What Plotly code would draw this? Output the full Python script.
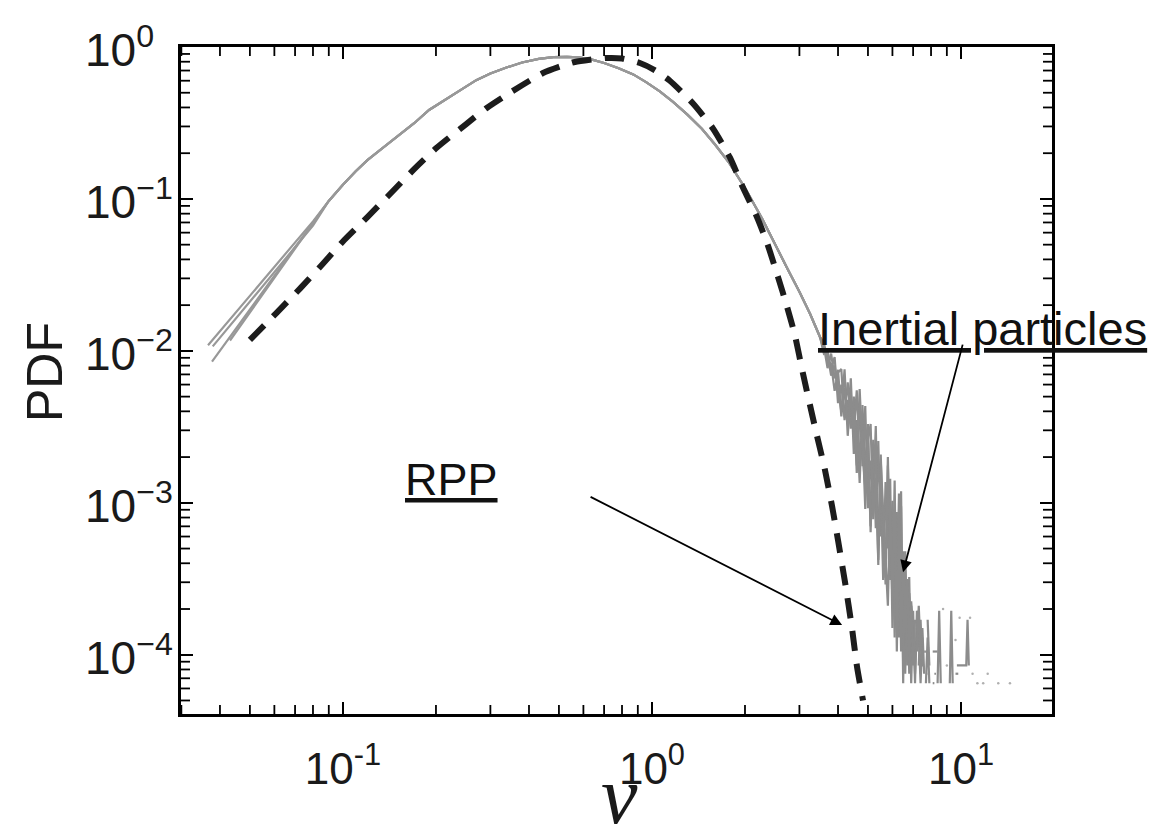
import math
import plotly.graph_objects as go

# ---------------- data ----------------
# Low-velocity ends of the four inertial-particle PDFs (they fan out here)
nu_left_a = [0.0366, 0.05, 0.065, 0.08]
pdf_left_a = [0.0109, 0.0230, 0.0433, 0.0712]
nu_left_b = [0.0379, 0.05, 0.065, 0.08]
pdf_left_b = [0.0107, 0.0211, 0.0401, 0.0668]
nu_left_c = [0.0377, 0.05, 0.065, 0.08]
pdf_left_c = [0.0085, 0.0187, 0.0390, 0.0697]
nu_left_d = [0.0431, 0.05, 0.065, 0.08]
pdf_left_d = [0.0117, 0.0179, 0.0380, 0.0690]

# Common body of the inertial-particle PDFs
nu_body = [0.09, 0.10, 0.11, 0.12, 0.135, 0.15, 0.17, 0.19, 0.21, 0.24, 0.27,
           0.30, 0.34, 0.38, 0.43, 0.48, 0.53, 0.58, 0.64, 0.70, 0.78, 0.87,
           0.96, 1.06, 1.17, 1.30, 1.45, 1.60, 1.78, 2.00, 2.25, 2.50, 2.75,
           3.00, 3.25, 3.50]
pdf_body = [0.097, 0.124, 0.152, 0.180, 0.218, 0.258, 0.315, 0.385, 0.44, 0.52,
            0.605, 0.67, 0.735, 0.79, 0.835, 0.857, 0.862, 0.855, 0.825, 0.785,
            0.725, 0.66, 0.585, 0.51, 0.435, 0.36, 0.29, 0.228, 0.172, 0.118,
            0.077, 0.050, 0.0345, 0.0245, 0.0175, 0.0123]

# Noisy high-velocity tails (None = empty bin)
nu_tail_a = [3.6, 3.7, 3.8, 3.9, 4.0, 4.1, 4.2, 4.3, 4.4, 4.5, 4.6, 4.7, 4.8,
             4.9, 5.0, 5.1, 5.2, 5.3, 5.4, 5.5, 5.6, 5.7, 5.8, 5.9, 6.0, 6.1,
             6.2, 6.3, 6.4, 6.5, 6.6, 6.7, 6.8, 6.9, 7.0, 7.1, 7.2, 7.3, 7.4,
             7.5, 7.6, 7.7, 7.8, 7.9, 8.0, 8.1, 8.2, 8.3, 8.4, 8.5, 8.6, 8.7,
             9.2, 9.3, 9.4]
pdf_tail_a = [0.0107, 0.0077, 0.0096, 0.0066, 0.0075, 0.0037, 0.0057, 0.0033,
              0.0066, 0.0021, 0.0035, 0.00135, 0.0044, 0.00167, 0.0028,
              0.00064, 0.0026, 0.00068, 0.00255, 0.0006, 0.00088, 0.00029,
              0.0020, 0.00031, 0.00103, 0.00013, 0.0006, 0.00013, 0.00095,
              6.5e-5, 0.00048, 0.00013, 0.000325, 6.5e-5, 0.000195, 6.5e-5,
              0.000195, 0.00013, 6.5e-5, 0.00013, None, 6.5e-5, 0.00013, 6.5e-5,
              None, 6.5e-5, 6.5e-5, None, 6.5e-5, 0.000195, 6.5e-5, None,
              6.5e-5, 0.000195, 6.5e-5]

nu_tail_b = [3.6, 3.7, 3.8, 3.9, 4.0, 4.1, 4.2, 4.3, 4.4, 4.5, 4.6, 4.7, 4.8,
             4.9, 5.0, 5.1, 5.2, 5.3, 5.4, 5.5, 5.6, 5.7, 5.8, 5.9, 6.0, 6.1,
             6.2, 6.3, 6.4, 6.5, 6.6, 6.7, 6.8, 6.9, 7.0, 7.1, 7.2, 7.3, 7.4,
             7.5, 7.6, 7.7, 7.8, 7.9, 8.0, 8.1, 8.2, 8.3, 8.4, 9.6, 9.7, 9.8]
pdf_tail_b = [0.0096, 0.0100, 0.0076, 0.0091, 0.00453, 0.0060, 0.00365, 0.0062,
              0.00365, 0.00467, 0.00157, 0.0045, 0.00174, 0.00433, 0.00092,
              0.0019, 0.00104, 0.0032, 0.00052, 0.00138, 0.00031, 0.00137,
              0.0005, 0.00144, 0.00015, 0.00085, 0.000225, 0.00115, 0.00015,
              0.00041, 7.5e-5, 0.0003, 7.5e-5, 0.000225, 0.00015, 7.5e-5,
              0.00015, None, 7.5e-5, 0.00015, 7.5e-5, None, 7.5e-5, 7.5e-5,
              None, None, 7.5e-5, 7.5e-5, None, 7.5e-5, 7.5e-5, 7.5e-5]

nu_tail_c = [3.6, 3.7, 3.8, 3.9, 4.0, 4.1, 4.2, 4.3, 4.4, 4.5, 4.6, 4.7, 4.8,
             4.9, 5.0, 5.1, 5.2, 5.3, 5.4, 5.5, 5.6, 5.7, 5.8, 5.9, 6.0, 6.1,
             6.2, 6.3, 6.4, 6.5, 6.6, 6.7, 6.8, 6.9, 7.0, 7.1, 7.2, 7.3, 7.4,
             7.5, 7.6, 7.7, 7.8, 7.9, 8.0, 9.7, 9.8, 9.9, 10.0, 10.1, 10.2,
             10.3, 10.4, 10.5, 10.6]
pdf_tail_c = [0.0114, 0.00845, 0.0082, 0.00546, 0.0072, 0.0076, 0.0035, 0.00476,
              0.00308, 0.0050, 0.00176, 0.0056, 0.00218, 0.00127, 0.0033,
              0.0007, 0.0018, 0.00195, 0.00039, 0.00208, 0.00058, 0.00032,
              0.00176, 0.00044, 0.00081, 0.00017, 0.00087, 0.00017, 0.00119,
              8.5e-5, 0.00036, 8.5e-5, 0.000255, 0.00017, 8.5e-5, 0.00017,
              None, 8.5e-5, 0.00017, 8.5e-5, 8.5e-5, None, 0.00017, 8.5e-5,
              None, 8.5e-5, 8.5e-5, 8.5e-5, 8.5e-5, 8.5e-5, 8.5e-5, 8.5e-5,
              8.5e-5, 0.00017, 8.5e-5]

nu_tail_d = [3.6, 3.7, 3.8, 3.9, 4.0, 4.1, 4.2, 4.3, 4.4, 4.5, 4.6, 4.7, 4.8,
             4.9, 5.0, 5.1, 5.2, 5.3, 5.4, 5.5, 5.6, 5.7, 5.8, 5.9, 6.0, 6.1,
             6.2, 6.3, 6.4, 6.5, 6.6, 6.7, 6.8, 6.9, 7.0, 7.1, 7.2, 7.3, 7.4,
             7.5, 7.6, 7.7, 7.8, 8.1, 8.2, 8.3, 8.4]
pdf_tail_d = [0.0100, 0.0095, 0.00688, 0.0080, 0.0055, 0.00397, 0.00757,
              0.00276, 0.00523, 0.00296, 0.0055, 0.00185, 0.0030, 0.00091,
              0.0026, 0.0033, 0.00078, 0.00146, 0.00042, 0.00189, 0.00088,
              0.00046, 0.00021, 0.00101, 0.00021, 0.0014, 0.000105, 0.0008,
              0.000105, 0.00048, 0.00021, 0.000315, 0.000105, 0.00021,
              0.000105, None, 0.000105, 0.00021, 0.000105, None, 0.000105,
              0.000105, None, 0.000105, 0.000105, 0.000105, 0.000105]

# Isolated occupied bins far in the tail
nu_dots = [8.75, 9.0, 9.9, 10.7, 9.6, 10.9, 11.3, 11.8, 12.2, 13.2, 14.4]
pdf_dots = [0.0002, 8.5e-5, 0.000175, 0.000175, 0.000125, 7.5e-5, 6.5e-5,
            6.5e-5, 7.5e-5, 6.5e-5, 6.5e-5]

# RPP (random-phase) prediction, dashed
nu_rpp = [0.05, 0.061, 0.073, 0.086, 0.101, 0.12, 0.139, 0.17, 0.201, 0.25,
          0.292, 0.35, 0.444, 0.50, 0.563, 0.63, 0.715, 0.80, 0.914, 1.02,
          1.14, 1.358, 1.575, 1.787, 1.97, 2.19, 2.36, 2.56, 2.74, 2.90, 3.08,
          3.37, 3.63, 3.83, 4.00, 4.22, 4.44, 4.61, 4.82]
pdf_rpp = [0.0118, 0.0178, 0.026, 0.0373, 0.0537, 0.076, 0.103, 0.157, 0.217,
           0.31, 0.397, 0.505, 0.674, 0.74, 0.797, 0.825, 0.847, 0.84, 0.785,
           0.705, 0.602, 0.425, 0.291, 0.1875, 0.119, 0.0755, 0.051, 0.0305,
           0.0193, 0.0127, 0.0071, 0.00314, 0.00164, 0.00094, 0.000566,
           0.000295, 0.000149, 8.3e-5, 5.0e-5]

x_ticks = [0.1, 1, 10]
x_ticktext = ["10<sup>-1</sup>", "10<sup>0</sup>", "10<sup>1</sup>"]
y_exponents = [-4, -3, -2, -1, 0]
y_ticktext = ["10<sup>\u22124</sup>", "10<sup>\u22123</sup>", "10<sup>\u22122</sup>",
              "10<sup>\u22121</sup>", "10<sup>0</sup>"]

X_RANGE = [-1.524, 1.2945]
Y_RANGE = [-4.39, 0]

# ---------------- figure ----------------
W, H = 1161, 831
MARGIN = dict(l=181, r=109, t=47, b=117)
PLOT_W = W - MARGIN["l"] - MARGIN["r"]
PLOT_H = H - MARGIN["t"] - MARGIN["b"]

GRAY = "#989898"
GRAY_TAIL = "#8c8c8c"
SANS = "Liberation Sans"

fig = go.Figure()

gray_series = [
    (nu_left_a, pdf_left_a, nu_tail_a, pdf_tail_a),
    (nu_left_b, pdf_left_b, nu_tail_b, pdf_tail_b),
    (nu_left_c, pdf_left_c, nu_tail_c, pdf_tail_c),
    (nu_left_d, pdf_left_d, nu_tail_d, pdf_tail_d),
]
for nl, pl, nt, pt in gray_series:
    fig.add_trace(go.Scatter(
        x=nl + nu_body, y=pl + pdf_body, mode="lines",
        line=dict(color=GRAY, width=2.2), hoverinfo="skip", showlegend=False))
    fig.add_trace(go.Scatter(
        x=nu_body[-1:] + nt, y=pdf_body[-1:] + pt, mode="lines",
        line=dict(color=GRAY_TAIL, width=2.2), hoverinfo="skip",
        showlegend=False))

fig.add_trace(go.Scatter(
    x=nu_dots, y=pdf_dots, mode="markers",
    marker=dict(color="#b0b0b0", size=2.5), hoverinfo="skip", showlegend=False))

fig.add_trace(go.Scatter(
    x=nu_rpp, y=pdf_rpp, mode="lines", line_shape="spline",
    line=dict(color="#1c1c1c", width=6, dash="20px,13px", smoothing=0.6),
    hoverinfo="skip", showlegend=False))

# minor log ticks (2..9 in each decade), inside on all four sides,
# drawn as one broken line trace
MINOR_LEN = 9
kx = 10 ** (MINOR_LEN / PLOT_W * (X_RANGE[1] - X_RANGE[0]))
ky = 10 ** (MINOR_LEN / PLOT_H * (Y_RANGE[1] - Y_RANGE[0]))
x_lo, x_hi = 10 ** X_RANGE[0], 10 ** X_RANGE[1]
y_lo, y_hi = 10 ** Y_RANGE[0], 10 ** Y_RANGE[1]
mt_x, mt_y = [], []
for e in range(-2, 2):
    for d in range(2, 10):
        v = d * 10.0 ** e
        if X_RANGE[0] < math.log10(v) < X_RANGE[1]:
            mt_x += [v, v, None, v, v, None]
            mt_y += [y_lo, y_lo * ky, None, y_hi, y_hi / ky, None]
for e in range(-5, 0):
    for d in range(2, 10):
        v = d * 10.0 ** e
        if Y_RANGE[0] < math.log10(v) < Y_RANGE[1]:
            mt_x += [x_lo, x_lo * kx, None, x_hi, x_hi / kx, None]
            mt_y += [v, v, None, v, v, None]
fig.add_trace(go.Scatter(
    x=mt_x, y=mt_y, mode="lines", line=dict(color="black", width=1.8),
    hoverinfo="skip", showlegend=False))

axis_common = dict(
    type="log", showline=True, linecolor="black", linewidth=2.5,
    mirror="ticks", ticks="inside", ticklen=12, tickwidth=1.8,
    tickcolor="black", showgrid=False, zeroline=False,
)

fig.update_xaxes(
    **axis_common, range=X_RANGE, tickmode="array", tickvals=x_ticks,
    ticktext=x_ticktext, tickfont=dict(family=SANS, size=44, color="#1a1a1a"),
    ticklabelstandoff=14)
fig.update_yaxes(
    **axis_common, range=Y_RANGE, dtick=1, showticklabels=False)

annotations = []
# y tick labels, left-aligned on the "10"
for e, t in zip(y_exponents, y_ticktext):
    annotations.append(dict(
        text=t, x=-0.1125, y=e, xref="paper", yref="y", xanchor="left",
        yanchor="middle", showarrow=False,
        font=dict(family=SANS, size=46, color="#1a1a1a")))

annotations += [
    dict(text="<u>Inertial particles</u>", x=0.7290, y=0.5787, xref="paper",
         yref="paper", xanchor="left", yanchor="middle", showarrow=False,
         font=dict(family=SANS, size=47, color="#111111")),
    dict(text="<u>RPP</u>", x=0.2549, y=0.3523, xref="paper", yref="paper",
         xanchor="left", yanchor="middle", showarrow=False,
         font=dict(family=SANS, size=45, color="#111111")),
    dict(text="", x=0.829, y=0.2127, xref="paper", yref="paper",
         ax=60, ay=-229, axref="pixel", ayref="pixel", showarrow=True,
         arrowhead=2, arrowsize=1.3, arrowwidth=1.8, arrowcolor="black"),
    dict(text="", x=0.759, y=0.1333, xref="paper", yref="paper",
         ax=-253, ay=-129, axref="pixel", ayref="pixel", showarrow=True,
         arrowhead=2, arrowsize=1.3, arrowwidth=1.8, arrowcolor="black"),
    dict(text="PDF", x=-0.1561, y=0.5127, xref="paper", yref="paper",
         xanchor="center", yanchor="middle", textangle=-90, showarrow=False,
         font=dict(family=SANS, size=50, color="#1a1a1a")),
    dict(text="<i>\u03bd</i>", x=0.503, y=-0.1225, xref="paper", yref="paper",
         xanchor="center", yanchor="middle", showarrow=False,
         font=dict(family="Liberation Serif", size=82, color="#1a1a1a")),
]

fig.update_layout(
    width=W, height=H,
    margin=dict(**MARGIN, autoexpand=False),
    paper_bgcolor="white", plot_bgcolor="white",
    showlegend=False, annotations=annotations,
)

fig.write_html("out.html")
